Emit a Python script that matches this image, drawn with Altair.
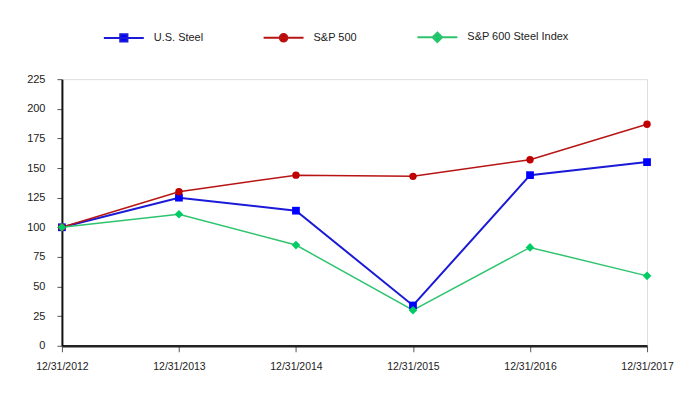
import altair as alt
import pandas as pd

dates = ["12/31/2012", "12/31/2013", "12/31/2014", "12/31/2015", "12/31/2016", "12/31/2017"]
series_names = ["U.S. Steel", "S&P 500", "S&P 600 Steel Index"]
us_steel = [100, 125, 114, 34, 144, 155]
sp500 = [100, 130, 144, 143, 157, 187]
steel_index = [100, 111, 85, 30, 83, 59]

line_colors = ["#1a1ad8", "#b81414", "#2ec46e"]
marker_colors = ["#0000ff", "#c00000", "#00cc66"]
marker_shapes = ["square", "circle", "diamond"]
stroke_widths = [2.0, 1.5, 1.5]
marker_sizes = [60, 55, 75]
legend_paths = [
    "M-1,0H1M-0.18,-0.18H0.18V0.18H-0.18Z",
    "M-1,0H1M-0.19,0A0.19,0.19,0,1,1,0.19,0A0.19,0.19,0,1,1,-0.19,0Z",
    "M-1,0H1M0,-0.24L0.24,0L0,0.24L-0.24,0Z",
]

rows = []
for i, (name, vals) in enumerate(zip(series_names, [us_steel, sp500, steel_index])):
    for d, v in zip(dates, vals):
        rows.append({
            "Date": d, "Value": v, "Series": name,
            "lc": line_colors[i], "mc": marker_colors[i],
            "shape": marker_shapes[i], "sw": stroke_widths[i], "size": marker_sizes[i],
        })
df = pd.DataFrame(rows)

FONT = "Liberation Sans"

x = alt.X("Date:O", sort=dates, title=None,
          scale=alt.Scale(type="point", padding=0),
          axis=alt.Axis(labelAngle=0, domainColor="#222", domainWidth=2.5,
                        tickColor="#555", tickSize=6, labelPadding=10,
                        labelFont=FONT, labelFontSize=10.5, labelColor="#222"))
y = alt.Y("Value:Q", title=None,
          scale=alt.Scale(domain=[0, 225], nice=False, zero=True),
          axis=alt.Axis(values=list(range(0, 226, 25)), grid=False,
                        domainColor="#111", domainWidth=2, tickColor="#555",
                        tickSize=5, labelPadding=12, labelFont=FONT,
                        labelFontSize=11, labelColor="#222"))

lines = alt.Chart(df).mark_line().encode(
    x=x, y=y,
    color=alt.Color("lc:N", scale=None),
    strokeWidth=alt.StrokeWidth("sw:Q", scale=None),
    detail="Series:N",
)

points = alt.Chart(df).mark_point(filled=True, opacity=1).encode(
    x=x, y=y,
    color=alt.Color("mc:N", scale=None),
    shape=alt.Shape("shape:N", scale=None),
    size=alt.Size("size:Q", scale=None),
)

legend_layer = alt.Chart(df).mark_point(filled=True, opacity=0, size=1600, strokeWidth=2).encode(
    x=x, y=y,
    fill=alt.Fill("Series:N", sort=series_names,
                  scale=alt.Scale(domain=series_names, range=marker_colors),
                  legend=alt.Legend(title=None)),
    stroke=alt.Stroke("Series:N", sort=series_names,
                      scale=alt.Scale(domain=series_names, range=line_colors),
                      legend=alt.Legend(title=None)),
    shape=alt.Shape("Series:N", sort=series_names,
                    scale=alt.Scale(domain=series_names, range=legend_paths),
                    legend=alt.Legend(
                        title=None, orient="none", direction="horizontal",
                        legendX=41, legendY=-63, columnPadding=56,
                        labelFont=FONT, labelFontSize=11, labelColor="#222",
                        labelOffset=9, symbolStrokeWidth=2, symbolSize=1600,
                    )),
)

chart = alt.layer(lines, points, legend_layer).properties(
    width=586, height=267,
    autosize=alt.AutoSizeParams(type="none"),
    padding={"left": 54, "top": 71, "right": 27, "bottom": 30},
).configure_view(stroke=None).configure(background="white")

chart.save("out.html", embed_options={"renderer": "svg", "actions": False})
